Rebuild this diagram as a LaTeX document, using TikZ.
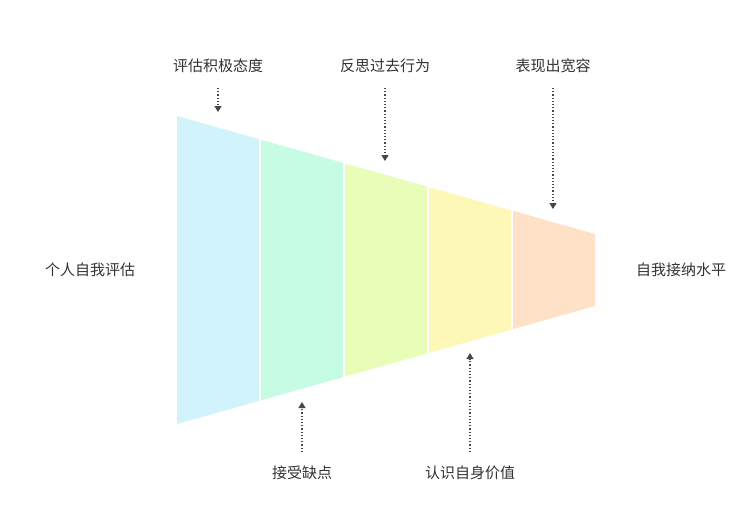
\documentclass[tikz,border=0pt]{standalone}
\usepackage{fontspec}
\setmainfont{Noto Sans CJK SC}
\usetikzlibrary{arrows.meta}
\definecolor{c1}{HTML}{D1F3FC}
\definecolor{c2}{HTML}{C6FBE4}
\definecolor{c3}{HTML}{E7FDB8}
\definecolor{c4}{HTML}{FEF8B8}
\definecolor{c5}{HTML}{FFE1C8}
\definecolor{tx}{HTML}{333333}
\tikzset{lab/.style={text=tx,font=\fontsize{15}{18}\selectfont,inner sep=1pt},
 arr/.style={draw=tx!90,line width=1.2pt,dotted,-{Triangle[length=6pt,width=7pt,line cap=butt]}}}
\begin{document}
\begin{tikzpicture}[x=1pt,y=-1pt]
\useasboundingbox[fill=white] (0,0) rectangle (751,517);
\def\tp#1{116+(#1-177)*0.2823}
\def\bt#1{424-(#1-177)*0.2823}
\foreach \a/\b/\c in {177/259/c1,261/343/c2,345/427/c3,429/511/c4,513/595/c5}{
 \fill[\c] (\a,{\tp{\a}}) -- (\b,{\tp{\b}}) -- (\b,{\bt{\b}}) -- (\a,{\bt{\a}}) -- cycle;}
\node[lab] (t1) at (218,66) {评估积极态度};
\node[lab] (t2) at (385,66) {反思过去行为};
\node[lab] (t3) at (553,66) {表现出宽容};
\node[lab] (b1) at (302,473) {接受缺点};
\node[lab] (b2) at (470,473) {认识自身价值};
\node[lab] (l) at (90,270) {个人自我评估};
\node[lab] (r) at (681,270) {自我接纳水平};
\coordinate (e1) at (218,112); \coordinate (e2) at (385,161);
\coordinate (e3) at (553,209); \coordinate (e4) at (302,402);
\coordinate (e5) at (470,353);
\draw[arr] (218,88) -- (e1);
\draw[arr] (385,88) -- (e2);
\draw[arr] (553,88) -- (e3);
\draw[arr] (302,452) -- (e4);
\draw[arr] (470,452) -- (e5);
\end{tikzpicture}
\end{document}
